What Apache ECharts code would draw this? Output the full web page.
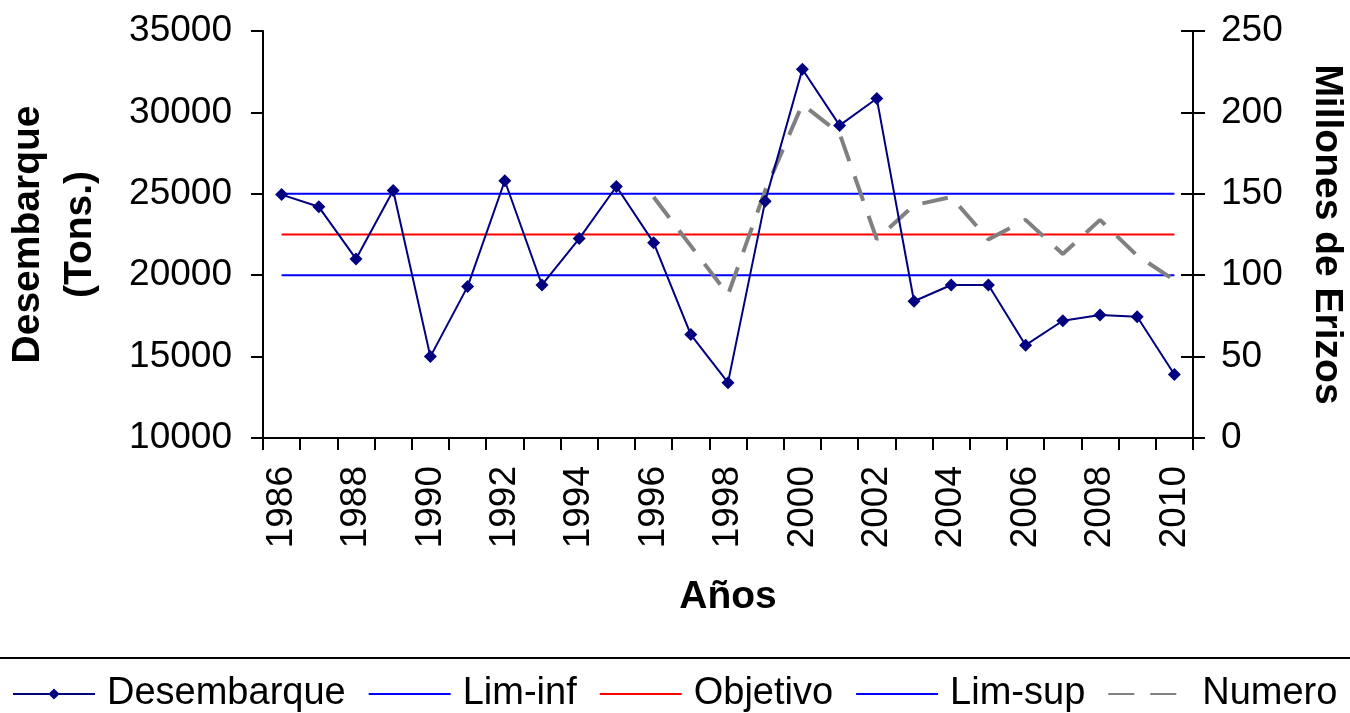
<!DOCTYPE html>
<html>
<head>
<meta charset="utf-8">
<style>
  html, body { margin: 0; padding: 0; background: #ffffff; }
  #chart { width: 1350px; height: 713px; }
</style>
<script src="https://cdn.jsdelivr.net/npm/echarts@6/dist/echarts.min.js"></script>
</head>
<body>
<div id="chart"></div>
<script>
// Years on the category axis
const years = ['1986','1987','1988','1989','1990','1991','1992','1993','1994','1995',
  '1996','1997','1998','1999','2000','2001','2002','2003','2004','2005',
  '2006','2007','2008','2009','2010'];

// Landings (tons), left axis
const desembarque = [24950, 24200, 21000, 25200, 15000, 19300, 25800, 19400, 22250, 25450,
  22000, 16350, 13400, 24550, 32650, 29200, 30850, 18400, 19400, 19400,
  15700, 17200, 17550, 17450, 13900];

// Reference levels (tons)
const limInfValue = 20000;
const objetivoValue = 22500;
const limSupValue = 25000;

// Number of urchins (millions), right axis; no estimates before 1996
const numero = [null, null, null, null, null, null, null, null, null, null,
  148, 118, 88, 152, 205, 187, 122, 143, 148, 122,
  134, 113, 134, 112, 97];

// Tick settings
const leftTicks = { min: 10000, max: 35000, interval: 5000 };
const rightTicks = { min: 0, max: 250, interval: 50 };

const limInf = years.map(() => limInfValue);
const objetivo = years.map(() => objetivoValue);
const limSup = years.map(() => limSupValue);

const FONT = "'Liberation Sans', Arial, sans-serif";
const plain = v => String(v);
const noSymbol = { color: 'rgba(0,0,0,0)', borderWidth: 0 };

const chart = echarts.init(document.getElementById('chart'), null, { renderer: 'canvas' });

chart.setOption({
  animation: false,
  backgroundColor: '#ffffff',
  textStyle: { fontFamily: FONT, color: '#000' },
  grid: { left: 263, right: 157, top: 31, bottom: 275, containLabel: false, outerBoundsMode: 'none' },
  legend: {
    left: 7,
    top: 670,
    itemWidth: 82,
    itemHeight: 14,
    itemGap: 22,
    textStyle: { fontFamily: FONT, fontSize: 38, color: '#000', padding: [0, 0, 0, 7] },
    data: [
      { name: 'Desembarque' },
      { name: 'Lim-inf', itemStyle: noSymbol },
      { name: 'Objetivo', itemStyle: noSymbol },
      { name: 'Lim-sup', itemStyle: noSymbol },
      { name: 'Numero', itemStyle: noSymbol }
    ]
  },
  graphic: [{
    type: 'line',
    shape: { x1: 0, y1: 658, x2: 1350, y2: 658 },
    style: { stroke: '#000', lineWidth: 2 }
  }],
  xAxis: {
    type: 'category',
    data: years,
    boundaryGap: true,
    name: 'Años',
    nameLocation: 'middle',
    nameGap: 140,
    nameTextStyle: { fontFamily: FONT, fontSize: 39, fontWeight: 'bold', color: '#000' },
    axisLine: { lineStyle: { color: '#000', width: 2 } },
    axisTick: { show: true, length: 12, interval: 0, lineStyle: { color: '#000', width: 2 } },
    axisLabel: { interval: 1, rotate: 90, margin: 28, fontSize: 37, color: '#000', fontFamily: FONT },
    splitLine: { show: false }
  },
  yAxis: [
    {
      type: 'value',
      position: 'left',
      min: leftTicks.min, max: leftTicks.max, interval: leftTicks.interval,
      name: 'Desembarque\n(Tons.)',
      nameLocation: 'middle',
      nameGap: 157,
      nameTextStyle: { fontFamily: FONT, fontSize: 39, fontWeight: 'bold', color: '#000', lineHeight: 52, align: 'center' },
      axisLine: { show: true, lineStyle: { color: '#000', width: 2 } },
      axisTick: { show: true, length: 12, lineStyle: { color: '#000', width: 2 } },
      axisLabel: { margin: 31, fontSize: 37, color: '#000', fontFamily: FONT, formatter: plain },
      splitLine: { show: false }
    },
    {
      type: 'value',
      position: 'right',
      min: rightTicks.min, max: rightTicks.max, interval: rightTicks.interval,
      name: 'Millones de Erizos',
      nameLocation: 'middle',
      nameRotate: -90,
      nameGap: 114,
      nameTextStyle: { fontFamily: FONT, fontSize: 39, fontWeight: 'bold', color: '#000' },
      axisLine: { show: true, lineStyle: { color: '#000', width: 2 } },
      axisTick: { show: true, length: 12, lineStyle: { color: '#000', width: 2 } },
      axisLabel: { margin: 28, fontSize: 37, color: '#000', fontFamily: FONT, formatter: plain },
      splitLine: { show: false }
    },
    {
      // inner half of the right-hand tick marks
      type: 'value',
      position: 'right',
      min: rightTicks.min, max: rightTicks.max, interval: rightTicks.interval,
      axisLine: { show: false },
      axisTick: { show: true, inside: true, length: 12, lineStyle: { color: '#000', width: 2 } },
      axisLabel: { show: false },
      splitLine: { show: false }
    }
  ],
  series: [
    {
      name: 'Desembarque', type: 'line', data: desembarque, yAxisIndex: 0,
      symbol: 'diamond', symbolSize: 13, z: 5,
      itemStyle: { color: '#000080' },
      lineStyle: { color: '#000080', width: 2 }
    },
    {
      name: 'Lim-inf', type: 'line', data: limInf, yAxisIndex: 0,
      symbol: 'none', z: 3,
      itemStyle: { color: '#0000ff' },
      lineStyle: { color: '#0000ff', width: 2 }
    },
    {
      name: 'Objetivo', type: 'line', data: objetivo, yAxisIndex: 0,
      symbol: 'none', z: 3,
      itemStyle: { color: '#ff0000' },
      lineStyle: { color: '#ff0000', width: 2 }
    },
    {
      name: 'Lim-sup', type: 'line', data: limSup, yAxisIndex: 0,
      symbol: 'none', z: 3,
      itemStyle: { color: '#0000ff' },
      lineStyle: { color: '#0000ff', width: 2 }
    },
    {
      name: 'Numero', type: 'line', data: numero, yAxisIndex: 1,
      symbol: 'none', z: 4,
      itemStyle: { color: '#808080' },
      lineStyle: { color: '#808080', width: 4, type: [26, 16] }
    }
  ]
});
</script>
</body>
</html>
